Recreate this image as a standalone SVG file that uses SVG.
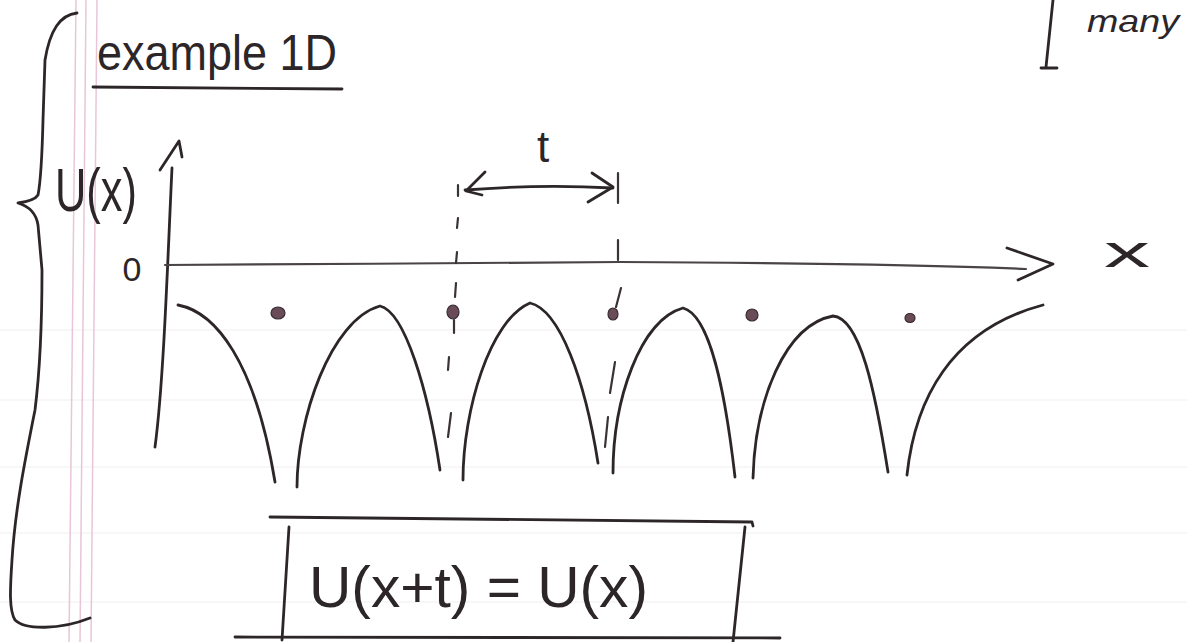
<svg xmlns="http://www.w3.org/2000/svg" width="1187" height="642" viewBox="0 0 1187 642">
<style>
.ink{fill:none;stroke:#2d2629;stroke-width:2.8;stroke-linecap:round;stroke-linejoin:round}
.thin{fill:none;stroke:#3a3336;stroke-width:2.2;stroke-linecap:round;stroke-linejoin:round}
.axis{fill:none;stroke:#4a4447;stroke-width:2.2;stroke-linecap:round;stroke-linejoin:round}
.margin{stroke:#e8c6d8;stroke-width:1.5}
.rule{stroke:#f1eef0;stroke-width:1}
.dot{fill:#6a4c59;stroke:#3a2b31;stroke-width:1.2}
.txt{font-family:"Liberation Sans","DejaVu Sans",sans-serif;fill:#2d2629}
</style>
<rect width="1187" height="642" fill="#ffffff"/>
<g id="paper">
<line class="rule" x1="0" y1="330" x2="1187" y2="330"/>
<line class="rule" x1="0" y1="400" x2="1187" y2="400"/>
<line class="rule" x1="0" y1="467" x2="1187" y2="467"/>
<line class="rule" x1="0" y1="533" x2="1187" y2="533"/>
<line class="rule" x1="0" y1="602" x2="1187" y2="602"/>
<line class="margin" x1="76" y1="0" x2="69" y2="642"/>
<line class="margin" x1="86" y1="0" x2="80" y2="642"/>
<line class="margin" x1="97" y1="0" x2="91" y2="642"/>
</g>
<g id="brace">
<path class="ink" d="M77,13 C60,15 50,30 45,60 L43,120 C42,160 41,180 38,195 C35,200 25,202 18,203 C28,206 36,212 38,225 L42,270 C42,320 40,370 35,410 C25,460 15,510 12,560 C10,590 9,610 15,620 C25,630 60,630 90,618"/>
</g>
<g id="corner-bracket">
<path class="ink" d="M1053,0 L1046,67 M1041,68 L1057,68"/>
<text class="txt" x="1087" y="32" font-size="32" font-style="italic" textLength="92" lengthAdjust="spacingAndGlyphs">many</text>
</g>
<g id="title">
<text class="txt" x="97" y="70" font-size="50" textLength="240" lengthAdjust="spacingAndGlyphs">example 1D</text>
<path class="ink" d="M93,87 L342,89"/>
</g>
<g id="axes">
<path class="ink" d="M172,168 C168,250 164,380 155,447"/>
<path class="ink" d="M160,170 L179,141 L182,157"/>
<path class="axis" d="M165,265 C300,265 500,262 620,262 C800,263 950,266 1026,269"/>
<path class="ink" d="M1007,248 L1053,264 L1018,280"/>
<text class="txt" x="55" y="211" font-size="62" textLength="82" lengthAdjust="spacingAndGlyphs">U(x)</text>
<text class="txt" x="132" y="281" font-size="34" text-anchor="middle">0</text>
<text class="txt" x="1104" y="267" font-size="44" textLength="46" lengthAdjust="spacingAndGlyphs">x</text>
</g>
<g id="potential">
<path class="ink" d="M178,305 C215,312 255,360 275,482"/>
<path class="ink" d="M297,487 C297,420 330,320 380,306 C405,312 428,390 440,470"/>
<path class="ink" d="M463,480 C463,410 490,320 530,303 C560,310 585,380 598,463"/>
<path class="ink" d="M613,473 C613,400 640,320 683,308 C710,315 725,390 735,477"/>
<path class="ink" d="M753,478 C755,400 785,325 833,316 C860,318 875,390 888,472"/>
<path class="ink" d="M907,475 C915,400 950,330 1043,305"/>
</g>
<g id="atoms">
<ellipse class="dot" cx="278" cy="313" rx="7" ry="6"/>
<ellipse class="dot" cx="453" cy="312" rx="6" ry="7"/>
<ellipse class="dot" cx="613" cy="314" rx="5" ry="6"/>
<ellipse class="dot" cx="752" cy="315" rx="6" ry="6"/>
<ellipse class="dot" cx="910" cy="318" rx="5" ry="4.5"/>
</g>
<g id="connectors">
<path class="thin" d="M458,185 L458,196 M458,218 L457,228 M457,252 L456,263 M456,283 L455,297 M454,320 L454,333 M449,357 L448,370 M451,413 L448,437"/>
<path class="thin" d="M618,173 L618,203 M618,240 L618,260 M621,288 L616,307 M615,362 L610,393 M608,417 L605,447"/>
<path class="ink" d="M465,190 Q540,184 613,188"/>
<path class="ink" d="M485,172 L466,191 L482,195"/>
<path class="ink" d="M592,173 L613,187 L588,202"/>
<text class="txt" x="543" y="162" font-size="44" text-anchor="middle">t</text>
</g>
<g id="formula">
<path class="ink" d="M270,517 L752,522 L753,526"/>
<path class="ink" d="M289,527 L282,640"/>
<path class="ink" d="M745,527 L733,642"/>
<path class="ink" d="M235,637 L780,638"/>
<text class="txt" x="309" y="607" font-size="58" textLength="339" lengthAdjust="spacingAndGlyphs">U(x+t) = U(x)</text>
</g>
</svg>
